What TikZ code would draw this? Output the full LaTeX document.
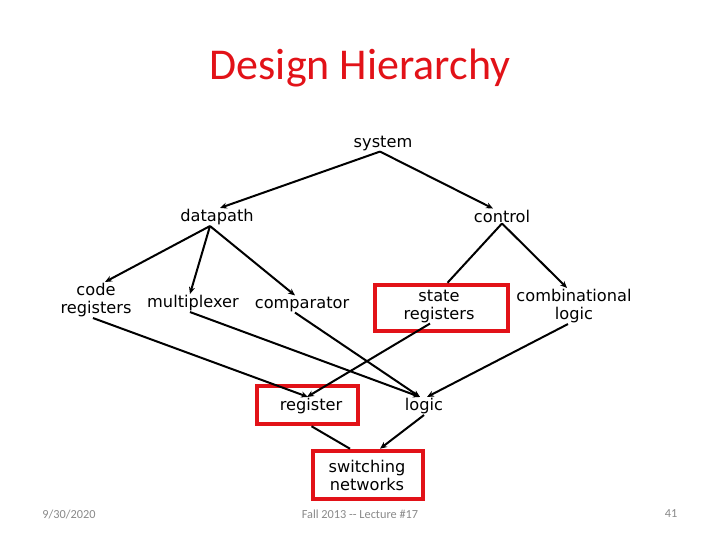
\documentclass[tikz,border=0pt]{standalone}
\usepackage{fontspec}
\setmainfont{Carlito}
\newfontfamily\boxfont{DejaVu Sans}
\usetikzlibrary{arrows.meta}
\definecolor{slidered}{RGB}{226,18,24}
\definecolor{footgray}{RGB}{137,137,137}

\begin{document}
\begin{tikzpicture}[x=1pt,y=-1pt,
  lbl/.style={font=\boxfont\fontsize{16.2}{18}\selectfont,align=center,inner sep=1pt},
  link/.style={line width=2pt,-{Stealth[length=7pt,width=6pt]}},
  plainlink/.style={line width=2pt},
  redbox/.style={draw=slidered,line width=4.5pt,inner sep=0pt},
  foot/.style={font=\fontsize{12.3}{14}\selectfont,text=footgray}]
\useasboundingbox (0,0) rectangle (720,540);
\node[font=\fontsize{44}{48}\selectfont,text=slidered] (title) at (360,68) {Design Hierarchy};

\node[lbl] (sys) at (383,143) {system};
\node[lbl] (dp) at (217,217) {datapath};
\node[lbl] (ctl) at (502,216) {control};
\node[lbl] (code) at (96,300) {code\\registers};
\node[lbl] (mux) at (193,303) {multiplexer};
\node[lbl] (cmp) at (302,304) {comparator};
\node[lbl] (sr) at (439,306) {state\\registers};
\node[lbl] (comb) at (574,306) {combinational\\logic};
\node[lbl] (reg) at (311,406) {register};
\node[lbl] (logic) at (424,406) {logic};
\node[lbl] (sw) at (367,475) {switching\\networks};

% red frames
\node[redbox,minimum width=133pt,minimum height=46pt] (srbox) at (441.5,308) {};
\node[redbox,minimum width=101pt,minimum height=38pt] (regbox) at (307.5,405) {};
\node[redbox,minimum width=110pt,minimum height=48pt] (swbox) at (368,475) {};

\draw[link] ([xshift=-3]sys.south) -- ([xshift=3]dp.north);
\draw[link] ([xshift=-3]sys.south) -- ([xshift=-9]ctl.north);
\draw[link] ([xshift=-7]dp.south) -- ([xshift=9]code.north);
\draw[link] ([xshift=-7]dp.south) -- ([xshift=-3]mux.north);
\draw[link] ([xshift=-7]dp.south) -- ([xshift=-7]cmp.north);
\draw[plainlink] (ctl.south) -- ([xshift=6]srbox.north);
\draw[link] (ctl.south) -- ([xshift=-7]comb.north);
\draw[link] ([xshift=-3]code.south) -- ([xshift=-3]reg.north);
\draw[link] ([xshift=-3]mux.south) -- ([xshift=-4]logic.north);
\draw[link] ([xshift=-7]cmp.south) -- ([xshift=-4]logic.north);
\draw[link] ([xshift=-9]sr.south) -- ([xshift=-4]reg.north);
\draw[link] ([xshift=-6]comb.south) -- ([xshift=3]logic.north);
\draw[plainlink] ([xshift=4]regbox.south) -- ([xshift=-18]swbox.north);
\draw[link] (logic.south) -- ([xshift=12]swbox.north);

\node[foot] (date) at (69,514) {9/30/2020};
\node[foot] (lect) at (360,514) {Fall 2013 -{}- Lecture \#17};
\node[foot] (page) at (671,514) {41};
\end{tikzpicture}
\end{document}
